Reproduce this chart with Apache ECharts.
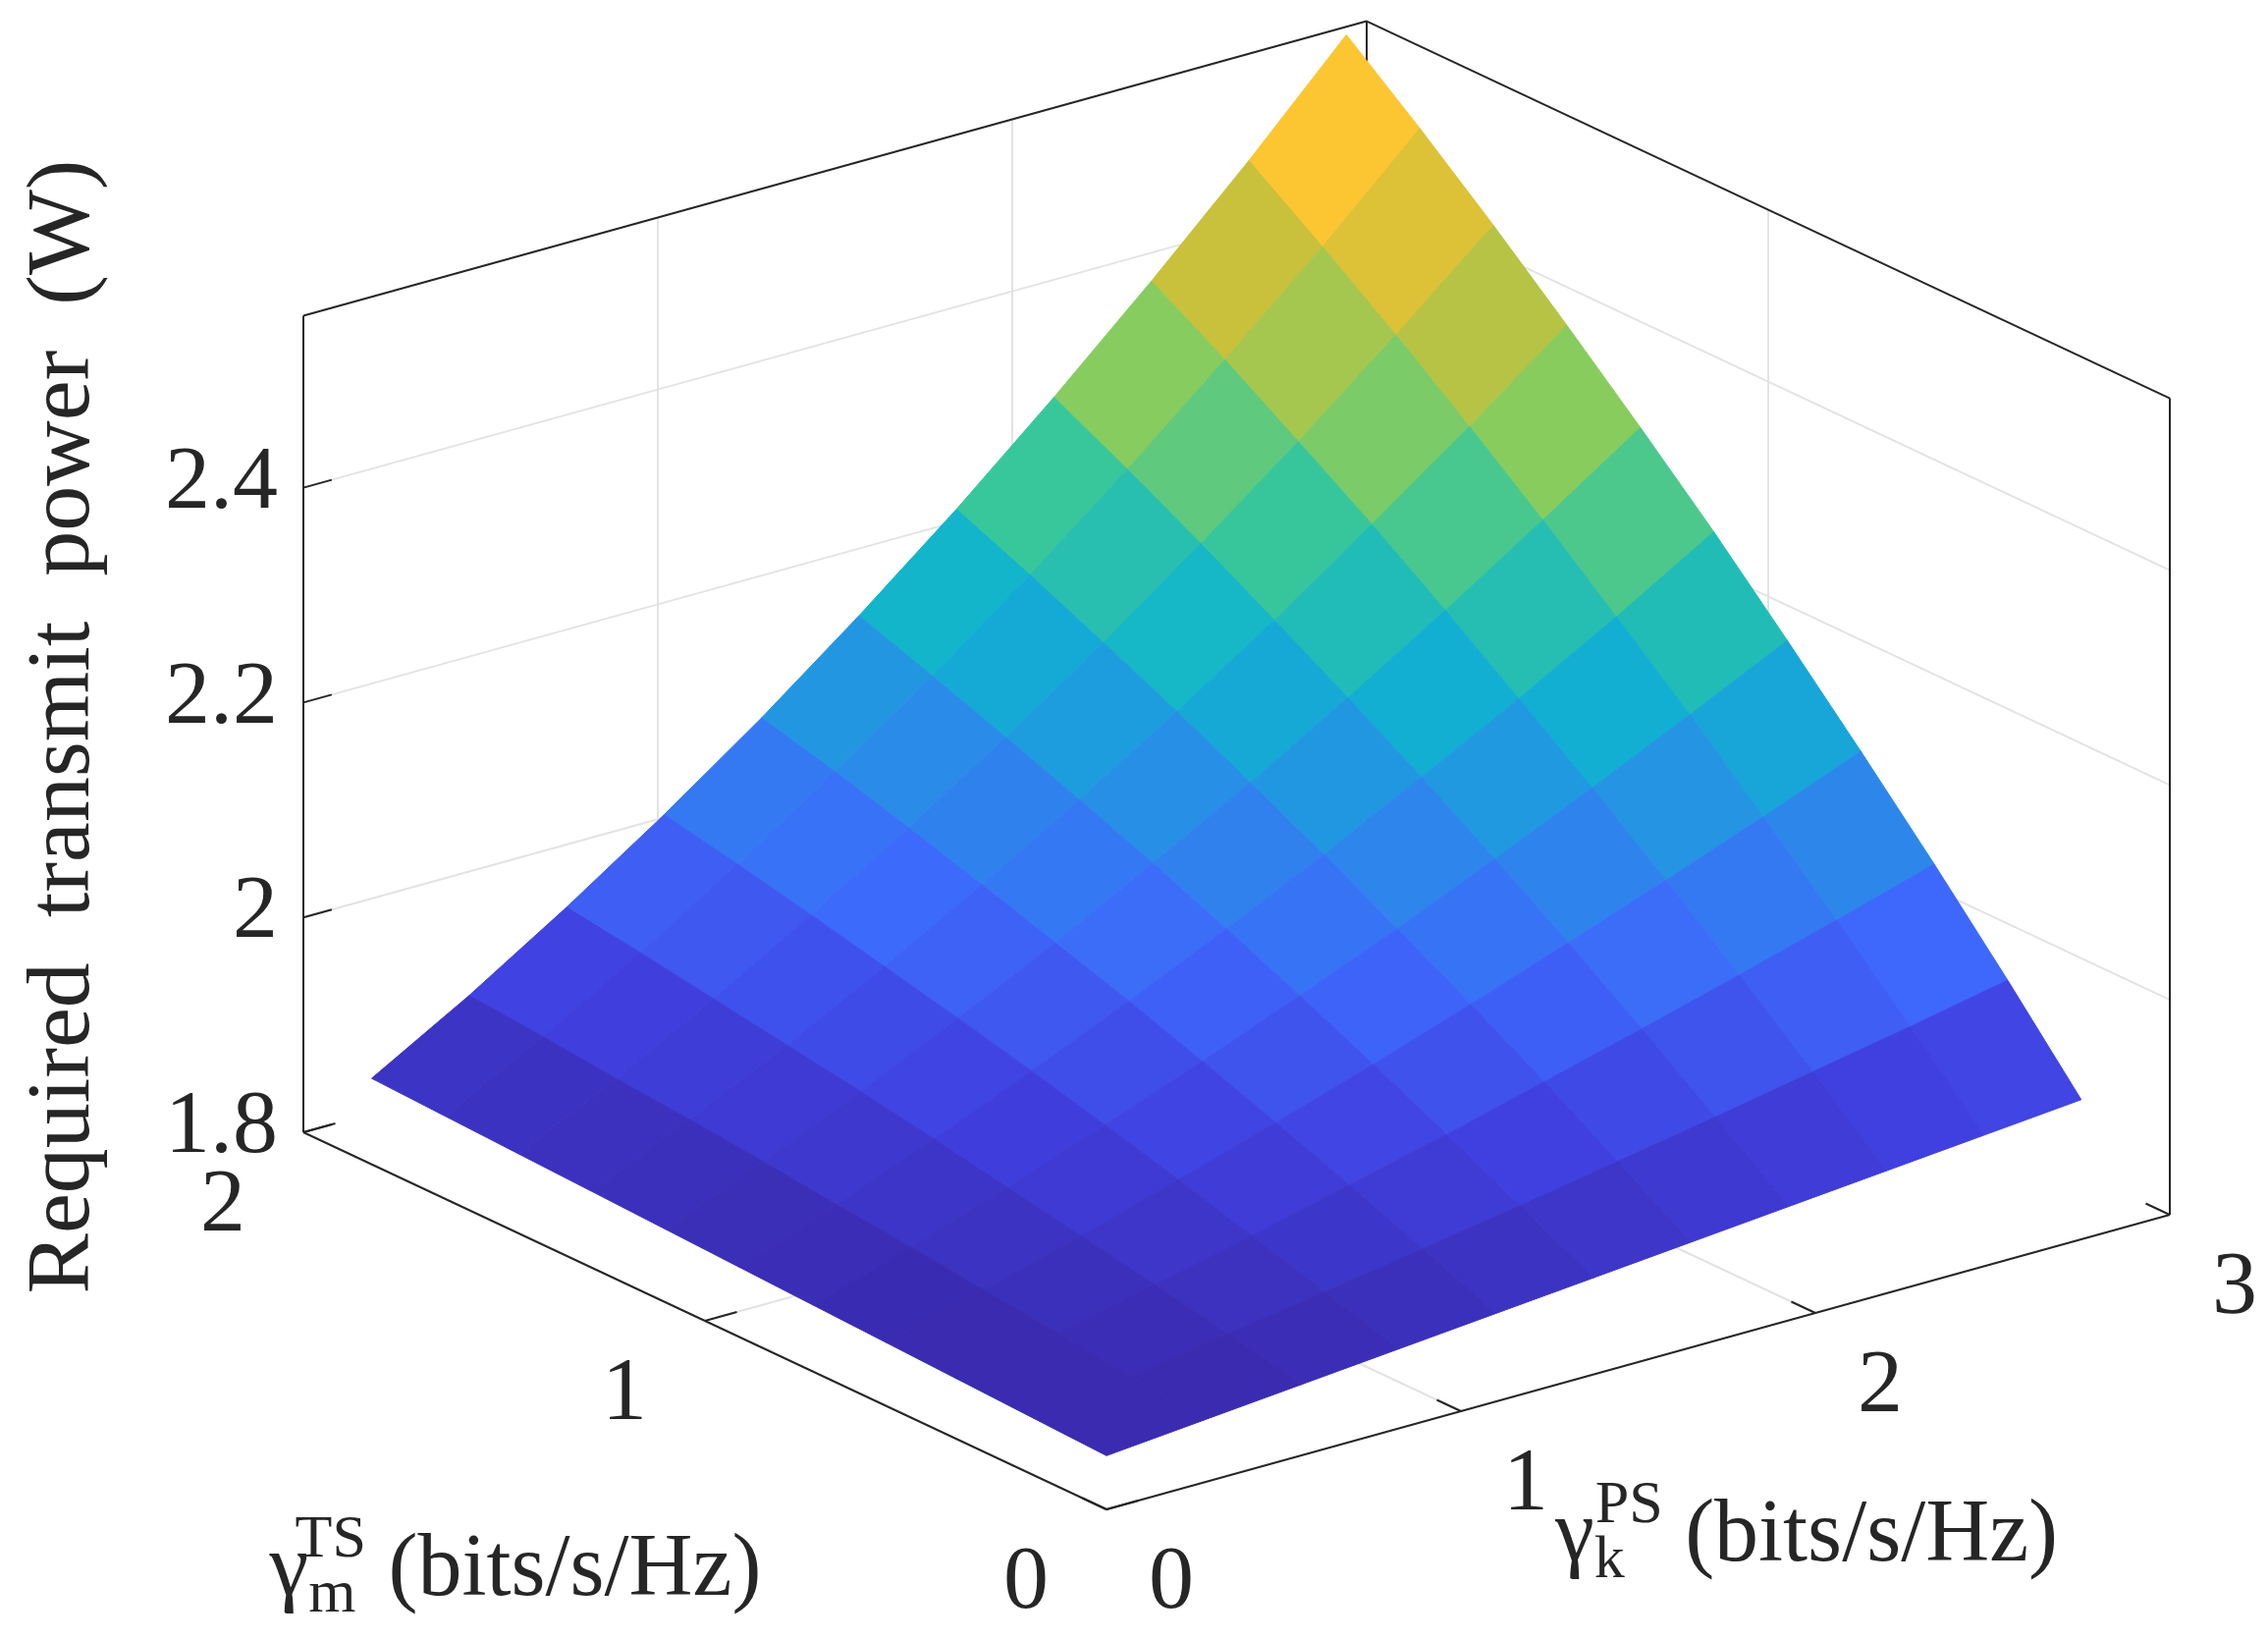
<!DOCTYPE html>
<html>
<head>
<meta charset="utf-8">
<script src="https://cdn.jsdelivr.net/npm/echarts@6/dist/echarts.min.js"></script>
<style>html,body{margin:0;background:#fff}#main{width:2310px;height:1670px}</style>
</head>
<body>
<div id="main"></div>
<script>
// surface sample positions
const psRates = [0, 0.275, 0.55, 0.825, 1.1, 1.375, 1.65, 1.925, 2.2, 2.475, 2.75];
const tsRates = [0, 0.183, 0.366, 0.549, 0.732, 0.915, 1.098, 1.281, 1.464, 1.647, 1.83];
// power[j][i]: j = TS rate index, i = PS rate index
const power = [
    [1.850, 1.858, 1.866, 1.874, 1.882, 1.890, 1.898, 1.906, 1.914, 1.922, 1.930],
    [1.853, 1.867, 1.881, 1.895, 1.910, 1.925, 1.941, 1.957, 1.974, 1.991, 2.009],
    [1.856, 1.875, 1.895, 1.915, 1.937, 1.959, 1.983, 2.007, 2.032, 2.058, 2.085],
    [1.859, 1.883, 1.908, 1.935, 1.963, 1.992, 2.023, 2.055, 2.088, 2.122, 2.158],
    [1.862, 1.891, 1.921, 1.954, 1.988, 2.024, 2.061, 2.101, 2.142, 2.185, 2.229],
    [1.865, 1.898, 1.934, 1.972, 2.012, 2.054, 2.098, 2.145, 2.193, 2.244, 2.298],
    [1.868, 1.906, 1.946, 1.989, 2.034, 2.083, 2.133, 2.187, 2.243, 2.302, 2.363],
    [1.871, 1.913, 1.957, 2.005, 2.056, 2.110, 2.167, 2.227, 2.291, 2.357, 2.426],
    [1.874, 1.919, 1.968, 2.021, 2.077, 2.136, 2.199, 2.266, 2.336, 2.410, 2.487],
    [1.877, 1.926, 1.979, 2.036, 2.097, 2.161, 2.230, 2.303, 2.380, 2.460, 2.545],
    [1.880, 1.932, 1.989, 2.050, 2.115, 2.185, 2.259, 2.338, 2.421, 2.508, 2.600]
];
const psTicks = [0, 1, 2, 3];
const tsTicks = [0, 1, 2];
const powerTicks = [1.8, 2, 2.2, 2.4];
const box = { x: [0, 3], y: [0, 2], z: [1.8, 2.56] };

// view: orthographic projection onto a hidden pixel-space cartesian grid
const O = [1127, 1537], EX = [361, -100], EY = [-409, -192], EZ = [0, -1094];
function proj(x, y, z) {
    return [O[0] + x * EX[0] + y * EY[0], O[1] + x * EX[1] + y * EY[1] + (z - box.z[0]) * EZ[1]];
}

const chart = echarts.init(document.getElementById("main"));
const font = "Liberation Serif";

const cells = [];
for (let j = 0; j < tsRates.length - 1; j++) {
    for (let i = 0; i < psRates.length - 1; i++) {
        const avg = (power[j][i] + power[j][i + 1] + power[j + 1][i] + power[j + 1][i + 1]) / 4;
        cells.push([i, j, avg]);
    }
}
cells.sort((a, b) => (b[0] + b[1]) - (a[0] + a[1]));

// box lines and grid lines
const gridSegs = [];
for (const z of powerTicks.slice(1)) {
    gridSegs.push([[0, 2, z], [3, 2, z]]);
    gridSegs.push([[3, 2, z], [3, 0, z]]);
}
for (const x of psTicks.slice(1, 3)) {
    gridSegs.push([[x, 2, box.z[0]], [x, 2, box.z[1]]]);
    gridSegs.push([[x, 0, box.z[0]], [x, 2, box.z[0]]]);
}
for (const y of tsTicks.slice(1, 2)) {
    gridSegs.push([[3, y, box.z[0]], [3, y, box.z[1]]]);
    gridSegs.push([[0, y, box.z[0]], [3, y, box.z[0]]]);
}
const zt = box.z[1], zb = box.z[0];
const boxSegs = [
    [[0, 0, zb], [3, 0, zb]], [[0, 0, zb], [0, 2, zb]],
    [[0, 2, zb], [0, 2, zt]], [[0, 2, zt], [3, 2, zt]], [[3, 2, zt], [3, 0, zt]],
    [[3, 0, zt], [3, 0, zb]], [[3, 2, zt], [3, 2, zb]]
];
for (const x of psTicks) boxSegs.push([[x, 0, zb], [x, 0.06, zb]]);
for (const y of tsTicks) boxSegs.push([[0, y, zb], [0.09, y, zb]]);
for (const z of powerTicks) boxSegs.push([[0, 2, z], [0.08, 2, z]]);

function segSeries(segs, color, width) {
    return {
        type: "custom", coordinateSystem: "cartesian2d", silent: true,
        data: segs.map((s, k) => [k]),
        renderItem: (params, api) => {
            const s = segs[api.value(0)];
            const a = api.coord(proj(...s[0])), b = api.coord(proj(...s[1]));
            return { type: "line", shape: { x1: a[0], y1: a[1], x2: b[0], y2: b[1] },
                     style: { stroke: color, lineWidth: width } };
        }
    };
}

const labels = [];
for (const x of psTicks) labels.push({ t: String(x), p: proj(x, 0, zb), dx: 66, dy: 76, align: "center" });
for (const y of tsTicks) labels.push({ t: String(y), p: proj(0, y, zb), dx: -82, dy: 76, align: "center" });
for (const z of powerTicks) labels.push({ t: String(z), p: proj(0, 2, z), dx: -26, dy: -4, align: "right" });

const rich = (supPad) => ({
    g: { fontSize: 90, fontFamily: font }, n: { fontSize: 90, fontFamily: font },
    s: { fontSize: 62, fontFamily: font, padding: [50, 0, 0, 0] },
    p: { fontSize: 62, fontFamily: font, padding: [0, 0, 62, supPad] }
});

const option = {
    animation: false,
    grid: { left: 0, right: 0, top: 0, bottom: 0 },
    xAxis: { type: "value", min: 0, max: 2310, show: false },
    yAxis: { type: "value", min: 0, max: 1670, inverse: true, show: false },
    visualMap: {
        show: false, seriesIndex: 2, dimension: 2, min: 1.87, max: 2.53,
        inRange: { color: ["#3a2bb0", "#4040e0", "#3d68fb", "#2a8ce8", "#0fb3d0", "#38c79a", "#8ccc5c", "#cdbf3a", "#fdc632"] }
    },
    series: [
        segSeries(gridSegs, "#e3e3e3", 2),
        segSeries(boxSegs, "#262626", 2),
        {
            type: "custom", coordinateSystem: "cartesian2d", silent: true,
            data: cells,
            renderItem: (params, api) => {
                const i = api.value(0), j = api.value(1);
                const pts = [[i, j], [i + 1, j], [i + 1, j + 1], [i, j + 1]].map(([a, b]) =>
                    api.coord(proj(psRates[a], tsRates[b], power[b][a])));
                const c = api.visual("color");
                return { type: "polygon", shape: { points: pts }, style: { fill: c, stroke: c, lineWidth: 1 } };
            }
        },
        {
            type: "custom", coordinateSystem: "cartesian2d", silent: true,
            data: labels.map((l, k) => [k]),
            renderItem: (params, api) => {
                const l = labels[api.value(0)];
                const c = api.coord(l.p);
                return { type: "text", x: c[0] + l.dx, y: c[1] + l.dy,
                         style: { text: l.t, fontFamily: font, fontSize: 92, fill: "#262626",
                                  align: l.align, verticalAlign: "middle" } };
            }
        }
    ],
    graphic: [
        { type: "text", x: 66, y: 740, rotation: Math.PI / 2, style: {
            text: "Required  transmit  power  (W)", fontFamily: font, fontSize: 92, fill: "#262626",
            align: "center", verticalAlign: "middle" } },
        { type: "text", x: 525, y: 1600, style: {
            text: "{g|γ}{s|m}{p|TS}{n| (bits/s/Hz)}", fontFamily: font, fill: "#262626",
            align: "center", verticalAlign: "middle", rich: rich(-62) } },
        { type: "text", x: 1840, y: 1565, style: {
            text: "{g|γ}{s|k}{p|PS}{n| (bits/s/Hz)}", fontFamily: font, fill: "#262626",
            align: "center", verticalAlign: "middle", rich: rich(-30) } }
    ]
};
chart.setOption(option);
</script>
</body>
</html>
